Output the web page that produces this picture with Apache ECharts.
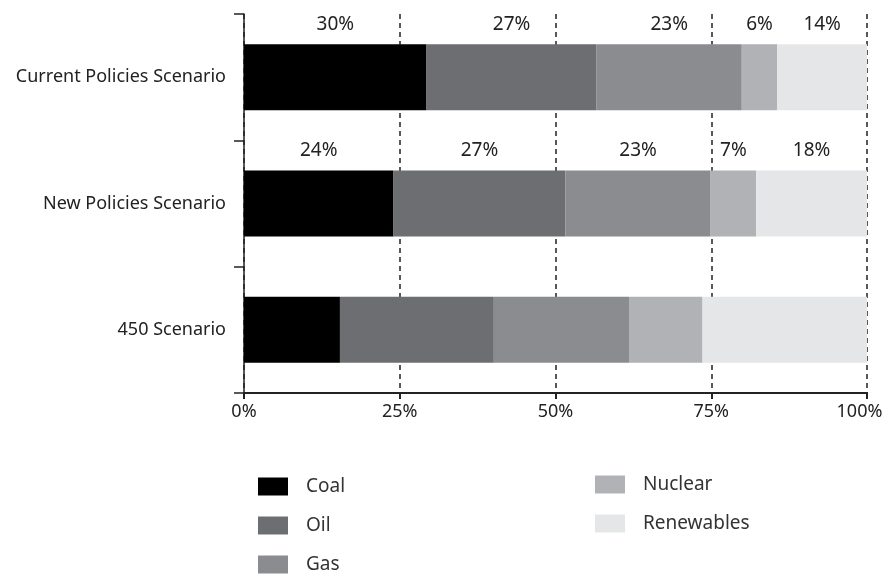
<!DOCTYPE html>
<html>
<head>
<meta charset="utf-8">
<script src="https://cdn.jsdelivr.net/npm/echarts@6/dist/echarts.min.js"></script>
<style>
  html, body { margin: 0; padding: 0; background: #fff; }
  #chart { width: 885px; height: 576px; }
</style>
</head>
<body>
<div id="chart"></div>
<script>
const scenarios = ['Current Policies Scenario', 'New Policies Scenario', '450 Scenario'];
const fuels = ['Coal', 'Oil', 'Gas', 'Nuclear', 'Renewables'];
const colors = ['#000000', '#6d6e71', '#8b8c8f', '#b1b2b5', '#e5e6e7'];

// share of each fuel per scenario (%)
const coal = [29.3, 24.0, 15.4];
const oil = [27.3, 27.6, 24.7];
const gas = [23.3, 23.3, 21.7];
const nuclear = [5.7, 7.3, 11.8];
const renewables = [14.4, 17.8, 26.4];

// printed labels above the bars (none for the 450 Scenario)
const coalLabels = ['30%', '24%', ''];
const oilLabels = ['27%', '27%', ''];
const gasLabels = ['23%', '23%', ''];
const nuclearLabels = ['6%', '7%', ''];
const renewablesLabels = ['14%', '18%', ''];

const xTicks = [0, 25, 50, 75, 100];

const values = [coal, oil, gas, nuclear, renewables];
const labels = [coalLabels, oilLabels, gasLabels, nuclearLabels, renewablesLabels];

const font = '"Noto Sans", "DejaVu Sans", sans-serif';

const legendBase = {
  orient: 'vertical',
  padding: 0,
  itemWidth: 30,
  itemHeight: 18,
  itemGap: 20,
  icon: 'rect',
  height: 140,
  textStyle: { fontFamily: font, fontSize: 19, lineHeight: 18, color: '#333', padding: [0, 0, 0, 13] }
};

const chart = echarts.init(document.getElementById('chart'));

chart.setOption({
  animation: false,
  grid: { left: 244, right: 18, top: 14, bottom: 183, outerBoundsMode: 'none' },
  legend: [
    Object.assign({}, legendBase, { data: fuels.slice(0, 3), left: 258, top: 477 }),
    Object.assign({}, legendBase, { data: fuels.slice(3), left: 595, top: 475 })
  ],
  xAxis: {
    type: 'value',
    min: xTicks[0],
    max: xTicks[xTicks.length - 1],
    interval: 25,
    axisLine: { show: true, lineStyle: { color: '#222', width: 2 } },
    axisTick: { show: true, length: 6, lineStyle: { color: '#222', width: 2 } },
    axisLabel: {
      // keep the last label inside the frame, as in the source
      formatter: v => (v === xTicks[xTicks.length - 1] ? '{last|' + v + '%}' : v + '%'),
      fontFamily: font,
      fontSize: 18,
      color: '#222',
      margin: 10,
      rich: {
        last: { fontFamily: font, fontSize: 18, color: '#222', padding: [0, 15, 0, 0] }
      }
    },
    splitLine: {
      show: true,
      lineStyle: { color: '#222', width: 1.5, type: [5, 4] }
    }
  },
  yAxis: {
    type: 'category',
    data: scenarios,
    inverse: true,
    axisLine: { show: true, lineStyle: { color: '#222', width: 1.5 } },
    axisTick: { show: true, length: 10, lineStyle: { color: '#222', width: 1.5 } },
    axisLabel: {
      fontFamily: font,
      fontSize: 18,
      color: '#222',
      margin: 18
    }
  },
  series: fuels.map((name, i) => ({
    name: name,
    type: 'bar',
    stack: 'total',
    barWidth: 66,
    itemStyle: { color: colors[i] },
    label: {
      show: true,
      position: 'top',
      distance: 10,
      fontFamily: font,
      fontSize: 19,
      color: '#222',
      formatter: p => labels[i][p.dataIndex]
    },
    data: values[i]
  }))
});
</script>
</body>
</html>
